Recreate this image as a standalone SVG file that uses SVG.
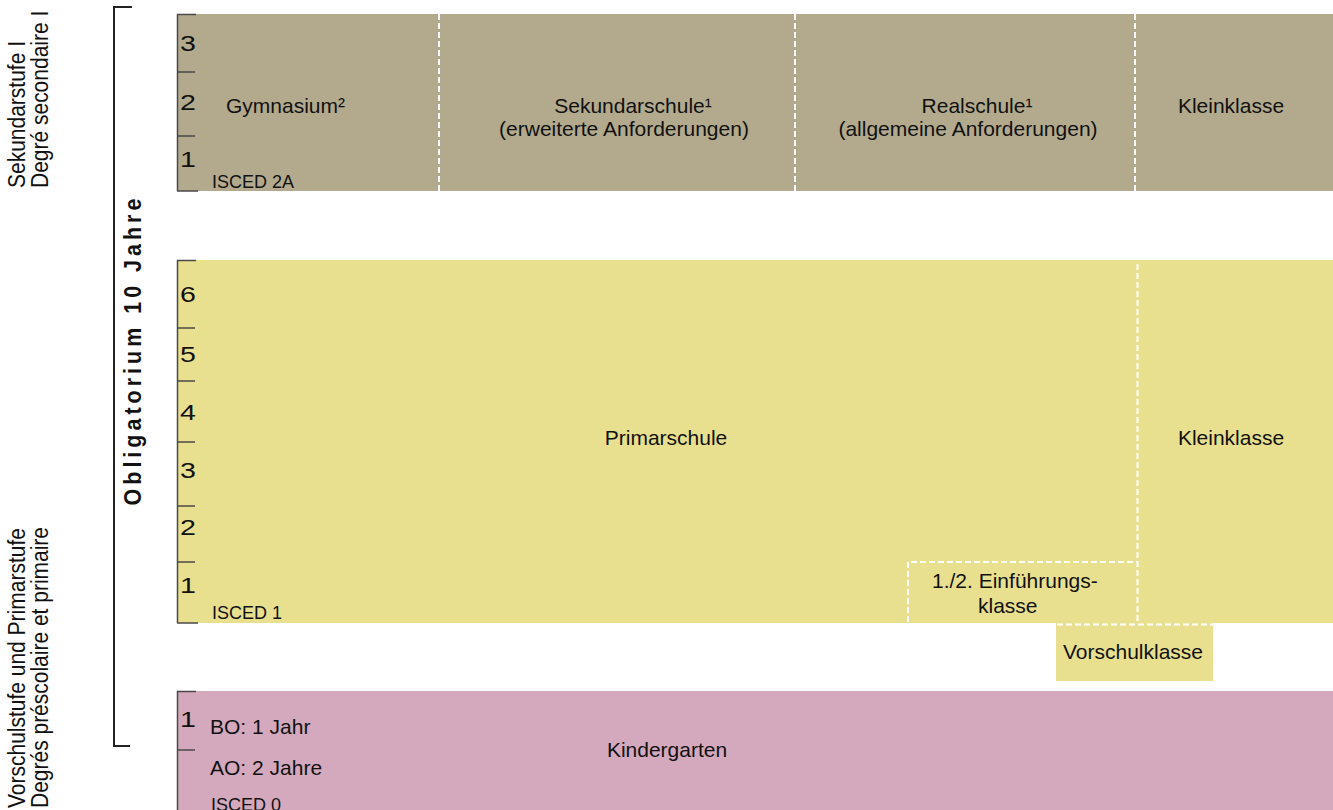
<svg xmlns="http://www.w3.org/2000/svg" width="1333" height="810" viewBox="0 0 1333 810">
<style>
.t{font-family:"Liberation Sans",Arial,sans-serif;font-size:21px;fill:#111}
.n{font-family:"Liberation Sans",Arial,sans-serif;font-size:22px;fill:#111}
.s{font-family:"Liberation Sans",Arial,sans-serif;font-size:18px;fill:#111}
.side{font-family:"Liberation Sans",Arial,sans-serif;font-size:21px;fill:#111}
.edge{stroke:#4a4a4a;stroke-width:1.5;fill:none}
.dash{stroke:#ffffff;stroke-width:2;stroke-dasharray:6 3;fill:none}
.m{text-anchor:middle}
</style>
<rect width="1333" height="810" fill="#ffffff"/>

<g id="labels-left">
<text class="side" transform="translate(25,188) rotate(-90) scale(1,1.15)">Sekundarstufe I</text>
<text class="side" transform="translate(48,188) rotate(-90) scale(1,1.15)">Degré secondaire I</text>
<text class="side" transform="translate(25,808) rotate(-90) scale(1,1.15)">Vorschulstufe und Primarstufe</text>
<text class="side" transform="translate(48,808) rotate(-90) scale(1,1.15)">Degrés préscolaire et primaire</text>
</g>

<g id="obligatorium">
<path d="M132,7 H114 V746 H130" stroke="#222" stroke-width="2" fill="none"/>
<text transform="translate(141,350) rotate(-90) scale(1,1.12)" text-anchor="middle" style="font-family:'Liberation Sans',Arial,sans-serif;font-size:21.5px;font-weight:bold;letter-spacing:4px;fill:#111">Obligatorium 10 Jahre</text>
</g>

<g id="sekundarstufe">
<rect x="177" y="14" width="1156" height="177" fill="#b3aa8e"/>
<path class="edge" d="M177.5,14 V191 M177,14.5 H196 M177,72 H195 M177,136 H195 M177,191 H198"/>
<line class="dash" x1="439" y1="14" x2="439" y2="191"/>
<line class="dash" x1="795" y1="14" x2="795" y2="191"/>
<line class="dash" x1="1135" y1="14" x2="1135" y2="191"/>
<text class="n" transform="translate(180,51) scale(1.3,1)">3</text>
<text class="n" transform="translate(180,110) scale(1.3,1)">2</text>
<text class="n" transform="translate(180,167) scale(1.3,1)">1</text>
<text class="t" x="226" y="113">Gymnasium²</text>
<text class="t m" x="633" y="113">Sekundarschule¹</text>
<text class="t m" x="624" y="136">(erweiterte Anforderungen)</text>
<text class="t m" x="977" y="113">Realschule¹</text>
<text class="t m" x="968" y="136">(allgemeine Anforderungen)</text>
<text class="t m" x="1231" y="113">Kleinklasse</text>
<text class="s" x="212" y="188">ISCED 2A</text>
</g>

<g id="primarstufe">
<rect x="177" y="260" width="1156" height="363" fill="#e8e08f"/>
<path class="edge" d="M177.5,260 V623 M177,260.5 H196 M177,328 H195 M177,381 H195 M177,442 H195 M177,506 H195 M177,562 H195 M177,623 H198"/>
<path class="dash" d="M1137.5,264 V622 M908,622 V562 H1137"/>
<text class="n" transform="translate(180,302) scale(1.3,1)">6</text>
<text class="n" transform="translate(180,362) scale(1.3,1)">5</text>
<text class="n" transform="translate(180,420) scale(1.3,1)">4</text>
<text class="n" transform="translate(180,478) scale(1.3,1)">3</text>
<text class="n" transform="translate(180,535) scale(1.3,1)">2</text>
<text class="n" transform="translate(180,593) scale(1.3,1)">1</text>
<text class="t m" x="666" y="445">Primarschule</text>
<text class="t m" x="1231" y="445">Kleinklasse</text>
<text class="t" x="932" y="588">1./2. Einführungs-</text>
<text class="t" x="978" y="613">klasse</text>
<text class="s" x="212" y="619">ISCED 1</text>
</g>

<g id="vorschulklasse">
<rect x="1056" y="623" width="157" height="58" fill="#e8e08f"/>
<line class="dash" x1="1057" y1="624.5" x2="1213" y2="624.5"/>
<text class="t m" x="1133" y="659">Vorschulklasse</text>
</g>

<g id="kindergarten">
<rect x="177" y="691" width="1156" height="119" fill="#d4a9bd"/>
<path class="edge" d="M177.5,691 V810 M177,691.5 H196 M177,750 H195"/>
<text class="n" transform="translate(180,727) scale(1.3,1)">1</text>
<text class="t" x="210" y="734">BO: 1 Jahr</text>
<text class="t" x="210" y="775">AO: 2 Jahre</text>
<text class="t m" x="667" y="757">Kindergarten</text>
<text class="s" x="211" y="811">ISCED 0</text>
</g>
</svg>
